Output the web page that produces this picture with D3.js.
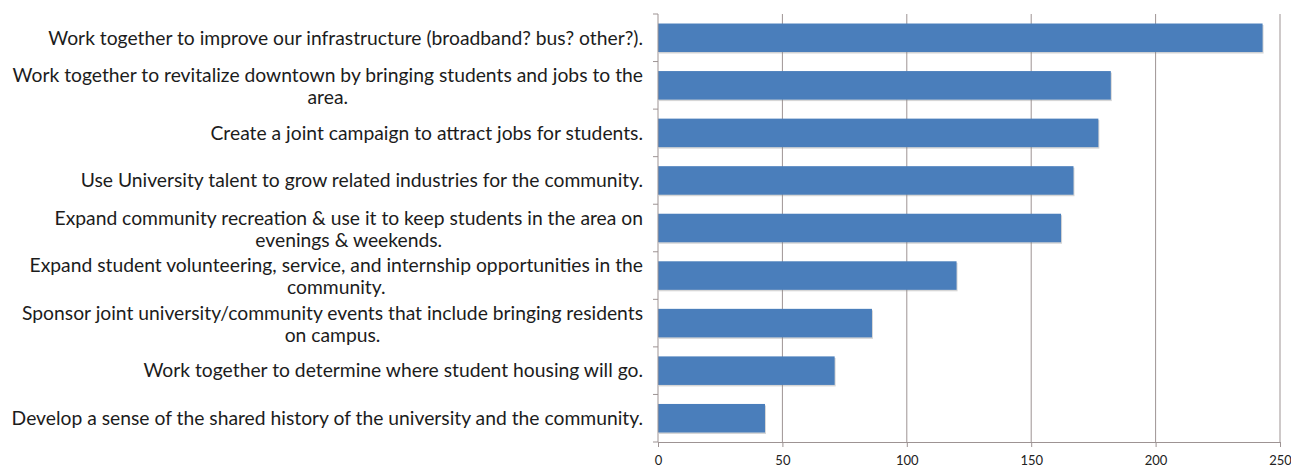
<!DOCTYPE html>
<html>
<head>
<meta charset="utf-8">
<script src="https://cdn.jsdelivr.net/npm/d3@7"></script>
<style>
  html, body { margin: 0; padding: 0; background: #fff; }
  svg { display: block; }
</style>
</head>
<body>
<svg id="chart" width="1291" height="471"></svg>
<script>
// Survey items (each entry is a list of wrapped lines) and their response counts
const categories = [
  ["Work together to improve our infrastructure (broadband? bus? other?)."],
  ["Work together to revitalize downtown by bringing students and jobs to the", "area."],
  ["Create a joint campaign to attract jobs for students."],
  ["Use University talent to grow related industries for the community."],
  ["Expand community recreation & use it to keep students in the area on", "evenings & weekends."],
  ["Expand student volunteering, service, and internship opportunities in the", "community."],
  ["Sponsor joint university/community events that include bringing residents", "on campus."],
  ["Work together to determine where student housing will go."],
  ["Develop a sense of the shared history of the university and the community."]
];
const values = [243, 182, 177, 167, 162, 120, 86, 71, 43];
const xTicks = [0, 50, 100, 150, 200, 250];

const svg = d3.select("#chart");
const margin = { top: 14, right: 11, bottom: 29, left: 658 };
const width = 1291 - margin.left - margin.right;
const height = 471 - margin.top - margin.bottom;

const g = svg.append("g").attr("transform", `translate(${margin.left},${margin.top})`);

const x = d3.scaleLinear().domain([0, 250]).range([0, width]);
const y = d3.scaleBand().domain(d3.range(categories.length)).range([0, height]).paddingInner(0.4).paddingOuter(0.2);
const yEdges = d3.scaleLinear().domain([0, categories.length]).range([0, height]);

const axisColor = "#9d9393";

// vertical gridlines
g.append("g")
  .selectAll("line")
  .data(xTicks.slice(1))
  .join("line")
  .attr("x1", d => x(d)).attr("x2", d => x(d))
  .attr("y1", 0).attr("y2", height)
  .attr("stroke", axisColor).attr("stroke-width", 1);

// bars with a soft shadow
const bars = g.append("g");
bars.selectAll("rect.shadow")
  .data(values)
  .join("rect")
  .attr("class", "shadow")
  .attr("x", 1)
  .attr("y", (d, i) => y(i) + 1.5)
  .attr("width", d => x(d))
  .attr("height", y.bandwidth())
  .attr("fill", "#8a8a8a")
  .attr("opacity", 0.35);
bars.selectAll("rect.bar")
  .data(values)
  .join("rect")
  .attr("class", "bar")
  .attr("x", 0)
  .attr("y", (d, i) => y(i))
  .attr("width", d => x(d))
  .attr("height", y.bandwidth())
  .attr("fill", "#4a7ebb");

// left axis with ticks at category boundaries
g.append("line")
  .attr("x1", 0).attr("x2", 0).attr("y1", 0).attr("y2", height)
  .attr("stroke", axisColor);
g.append("g")
  .selectAll("line")
  .data(d3.range(categories.length + 1))
  .join("line")
  .attr("x1", -5).attr("x2", 0)
  .attr("y1", d => yEdges(d)).attr("y2", d => yEdges(d))
  .attr("stroke", axisColor);

// bottom axis
const xAxis = d3.axisBottom(x).tickValues(xTicks).tickSize(5).tickSizeOuter(0).tickPadding(9);
const xg = g.append("g").attr("transform", `translate(0,${height})`).call(xAxis);
xg.select(".domain").attr("stroke", axisColor);
xg.selectAll(".tick line").attr("stroke", axisColor);
xg.selectAll(".tick text")
  .attr("font-family", "Lato, 'Open Sans', sans-serif")
  .attr("font-size", 13)
  .attr("fill", "#222");

// category labels: block right-aligned to the axis, wrapped lines centred within the block
const labelFont = "Lato, 'Open Sans', sans-serif";
const labelSize = 19.3;
const lineH = 22;
const labelRight = -15;
const labels = g.append("g")
  .attr("font-family", labelFont)
  .attr("font-size", labelSize)
  .attr("fill", "#1c1c1c");

categories.forEach((lines, i) => {
  const cy = y(i) + y.bandwidth() / 2 + (lines.length > 1 ? 1 : 0);
  const grp = labels.append("g");
  const texts = grp.selectAll("text")
    .data(lines)
    .join("text")
    .attr("text-anchor", "middle")
    .attr("dy", "0.35em")
    .attr("y", (d, j) => cy + (j - (lines.length - 1) / 2) * lineH)
    .text(d => d);
  let w = 0;
  texts.each(function() { w = Math.max(w, this.getComputedTextLength()); });
  texts.attr("x", labelRight - w / 2);
});
</script>
</body>
</html>
